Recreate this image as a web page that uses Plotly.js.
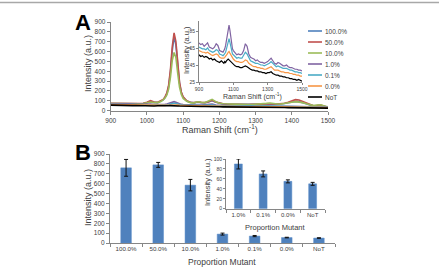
<!DOCTYPE html>
<html><head><meta charset="utf-8">
<script src="https://cdn.plot.ly/plotly-3.0.1.min.js"></script>
<style>html,body{margin:0;padding:0;background:#fff}#c{width:439px;height:270px}</style>
</head><body><div id="c"></div>
<script>
// ---------- Panel A data (Raman spectra) ----------
const ramanShift = [900,910,920,930,940,950,960,970,980,990,1000,1010,1020,1030,1040,1045,1050,1055,1060,1065,1070,1075,1080,1085,1090,1095,1100,1110,1120,1130,1140,1150,1160,1170,1180,1190,1200,1210,1220,1230,1240,1250,1260,1270,1280,1290,1300,1310,1320,1330,1340,1350,1360,1370,1380,1390,1400,1410,1420,1430,1440,1450,1460,1470,1480,1490,1500];
const seriesNames = ["100.0%","50.0%","10.0%","1.0%","0.1%","0.0%","NoT"];
const spec100 = [72,71,71,70,70,70,69,69,70,73,80,95,84,82,96,110,134,170,245,395,610,755,665,450,280,185,135,98,84,80,86,82,80,88,100,85,73,68,66,65,64,63,63,62,62,63,64,65,67,70,72,69,67,68,73,80,88,94,92,84,70,57,50,51,53,44,35];
const spec50  = [76,75,74,74,73,73,72,72,73,76,85,102,88,85,100,115,140,180,260,420,650,790,700,470,290,190,140,100,85,82,88,84,82,92,105,88,75,70,68,66,65,64,64,63,63,64,65,66,68,72,74,70,68,70,76,86,100,112,108,94,74,58,50,53,56,45,35];
const spec10  = [72,71,71,70,70,70,69,69,70,72,78,88,82,82,95,108,128,160,220,340,510,590,540,380,240,165,125,95,82,80,90,85,82,98,115,92,76,70,68,66,65,64,63,63,62,63,64,65,68,74,78,72,68,68,72,78,86,92,90,82,70,58,52,58,60,48,38];
const spec1   = [71,69,70,67,69,71,66,65,64,66,70,68,62,61,60,62,64,68,74,82,89,92,86,76,68,64,62,59,57,58,57,58,62,70,67,58,54,53,52,50,51,49,48,48,47,48,49,51,53,50,47,46,48,47,45,44,44,45,43,42,42,41,40,40,39,39,38];
const spec01  = [66,65,64,64,63,65,62,61,60,61,63,62,58,57,56,57,58,60,64,69,74,76,72,66,61,58,57,55,53,54,53,53,56,60,58,53,50,49,48,47,47,46,45,45,44,45,46,47,49,47,44,43,44,43,42,41,41,41,40,39,39,38,37,37,36,36,35];
const spec00  = [62,61,60,60,59,60,58,57,56,57,58,57,54,53,53,53,54,55,56,58,60,61,59,57,55,53,52,50,49,49,48,48,49,51,50,47,45,44,43,43,42,42,41,41,40,40,41,42,43,41,39,39,39,38,37,37,36,36,36,35,35,34,34,33,33,32,32];
const specNoT = [57,55,56,54,55,54,52,53,51,52,50,49,48,50,48,47,49,48,50,51,52,51,50,48,47,46,46,44,43,43,42,42,43,44,43,41,40,39,39,38,38,37,37,36,36,35,36,36,37,35,34,33,33,32,32,31,31,30,30,29,29,28,28,27,28,27,26];
const seriesColors = ["#4F81BD","#C0504D","#9BBB59","#8064A2","#4BACC6","#F79646","#000000"];

// ---------- Panel B data (bar chart) ----------
const proportions = ["100.0%","50.0%","10.0%","1.0%","0.1%","0.0%","NoT"];
const intensityMean = [760,790,585,90,70,55,50];
const intensityErr  = [85,25,58,10,6,3,3];
const insetProportions = ["1.0%","0.1%","0.0%","NoT"];
const insetMean = [90,70,55,50];
const insetErr  = [10,6,3,3];

// ---------- layout helpers ----------
const W = 439, H = 270;
const px = x => x / W;
const py = y => 1 - y / H;
const FONT = "Liberation Sans, Arial, sans-serif";
const AX = "#868686", TXT = "#404040";

const specs = [spec100, spec50, spec10, spec1, spec01, spec00, specNoT];
const traces = [];
specs.forEach((s, i) => traces.push({
  x: ramanShift, y: s, type: "scatter", mode: "lines", name: seriesNames[i],
  line: {color: seriesColors[i], width: 1.6}, xaxis: "x", yaxis: "y", showlegend: false, hoverinfo: "skip"
}));
[3,4,5,6].forEach(i => traces.push({
  x: ramanShift, y: specs[i], type: "scatter", mode: "lines", name: seriesNames[i],
  line: {color: seriesColors[i], width: 1.2}, xaxis: "x2", yaxis: "y2", showlegend: false, hoverinfo: "skip"
}));
traces.push({
  x: proportions, y: intensityMean, type: "bar", width: 0.33,
  marker: {color: "#4F81BD", line: {color: "#5B8DC8", width: 0.5}},
  error_y: {type: "data", array: intensityErr, color: "#111", thickness: 1, width: 2},
  xaxis: "x3", yaxis: "y3", showlegend: false, hoverinfo: "skip"
});
traces.push({
  x: insetProportions, y: insetMean, type: "bar", width: 0.32,
  marker: {color: "#4F81BD", line: {color: "#5B8DC8", width: 0.5}},
  error_y: {type: "data", array: insetErr, color: "#111", thickness: 1, width: 2},
  xaxis: "x4", yaxis: "y4", showlegend: false, hoverinfo: "skip"
});

const baseAx = (extra) => Object.assign({
  showline: true, linecolor: AX, linewidth: 1, ticks: "outside", tickcolor: AX, ticklen: 3, tickwidth: 1,
  showgrid: false, zeroline: false, fixedrange: true,
  tickfont: {family: FONT, size: 6.5, color: TXT}
}, extra);

const shapes = [{type: "line", xref: "paper", yref: "paper", x0: 0, x1: 1, y0: py(2.5), y1: py(2.5),
  line: {color: "#A8A8A8", width: 1.5}}];
const annotations = [];
const ann = (text, x, y, size, extra) => annotations.push(Object.assign({
  text, x: px(x), y: py(y), xref: "paper", yref: "paper", showarrow: false,
  xanchor: "center", yanchor: "middle", font: {family: FONT, size, color: TXT}
}, extra || {}));

// panel letters
ann("<b>A</b>", 83, 22, 22, {font: {family: FONT, size: 22, color: "#000"}});
ann("<b>B</b>", 83, 152, 22, {font: {family: FONT, size: 22, color: "#000"}});
// axis titles
ann("Intensity (a.u.)", 88, 64, 9, {textangle: -90});
ann("Raman Shift (cm<sup>-1</sup>)", 220, 129, 9);
ann("Intensity (a.u.)", 187, 50, 7.5, {textangle: -90});
ann("Raman Shift (cm<sup>-1</sup>)", 252, 96, 7);
ann("Intensity (a.u.)", 88, 198, 9, {textangle: -90});
ann("Proportion Mutant", 222, 262, 8.5);
ann("Intensity (a.u.)", 207, 182, 7.5, {textangle: -90});
ann("Proportion Mutant", 275, 227, 7.5);

// manual legend
seriesNames.forEach((n, i) => {
  const y = 31 + i * 11;
  shapes.push({type: "line", xref: "paper", yref: "paper", x0: px(308), x1: px(322), y0: py(y), y1: py(y),
    line: {color: seriesColors[i], width: 1.6}});
  ann(n, 323, y, 6.5, {xanchor: "left"});
});

const layout = {
  width: W, height: H, margin: {l: 0, r: 0, t: 0, b: 0},
  paper_bgcolor: "#fff", plot_bgcolor: "rgba(0,0,0,0)", showlegend: false,
  font: {family: FONT, color: TXT},
  xaxis: baseAx({domain: [px(110.7), px(328)], range: [900, 1500], dtick: 100, tick0: 900, anchor: "y"}),
  yaxis: baseAx({domain: [py(110.7), py(22)], range: [0, 900], dtick: 100, anchor: "x"}),
  xaxis2: baseAx({domain: [px(199), px(302)], range: [900, 1500], dtick: 200, tick0: 900, anchor: "y2", ticklen: 2,
    tickfont: {family: FONT, size: 5, color: TXT}}),
  yaxis2: baseAx({domain: [py(82), py(20.8)], range: [25, 97], dtick: 20, tick0: 25, anchor: "x2", ticklen: 2,
    tickfont: {family: FONT, size: 5, color: TXT}}),
  xaxis3: baseAx({domain: [px(110), px(335)], type: "category", tickson: "boundaries", anchor: "y3",
    range: [-0.5, 6.5], tickfont: {family: FONT, size: 6.2, color: TXT}}),
  yaxis3: baseAx({domain: [py(243), py(154)], range: [0, 900], dtick: 100, anchor: "x3"}),
  xaxis4: baseAx({domain: [px(226), px(325)], type: "category", tickson: "boundaries", anchor: "y4",
    range: [-0.5, 3.5], tickfont: {family: FONT, size: 6, color: TXT}}),
  yaxis4: baseAx({domain: [py(208.7), py(159)], range: [0, 100], dtick: 20, anchor: "x4", ticklen: 2,
    tickfont: {family: FONT, size: 5, color: TXT}}),
  shapes, annotations
};
Plotly.newPlot("c", traces, layout, {displayModeBar: false, staticPlot: true});
</script></body></html>
